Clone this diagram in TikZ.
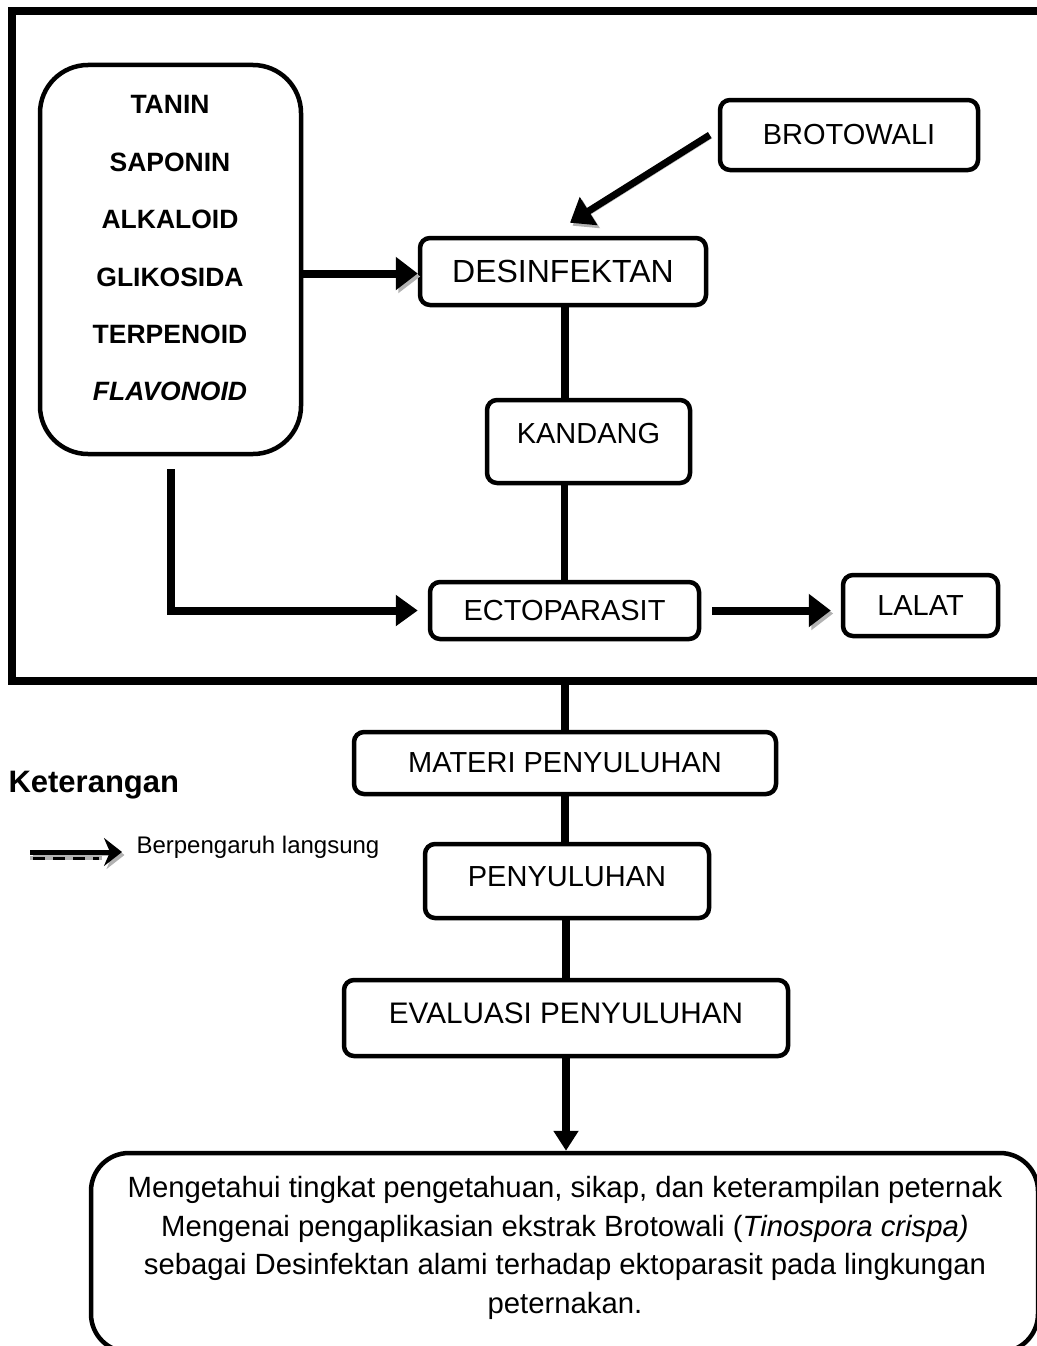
\documentclass[tikz,border=0pt]{standalone}
\usepackage{fontspec}
\setmainfont{Liberation Sans}
\usetikzlibrary{arrows.meta,calc,positioning}

\tikzset{
  kotak/.style={draw, line width=4.5pt, rounded corners=10pt, inner sep=0pt, align=center, font=\fontsize{29}{34}\selectfont},
  garis/.style={line width=7.5pt},
  panah/.style={line width=8pt, -{Triangle[length=22pt,width=32pt]}},
  bayang/.style={preaction={draw=black!30, transform canvas={shift={(2.5pt,-3pt)}}}},
}

\begin{document}
\begin{tikzpicture}[x=1pt,y=-1pt]
\useasboundingbox (0,0) rectangle (1036,1346);

% bingkai luar
\draw[line width=8pt] (1050,11) -- (12,11) -- (12,681) -- (1050,681);
\coordinate (bingkai) at (12,681);

% senyawa aktif
\node[draw, line width=4.5pt, rounded corners=48pt, minimum width=261pt, minimum height=389pt] (senyawa) at (170.5,259.5) {};
\node[align=center, font=\bfseries\fontsize{26.5}{57.4}\selectfont] (daftar) at (170,248.5)
  {TANIN\\SAPONIN\\ALKALOID\\GLIKOSIDA\\TERPENOID\\\textit{FLAVONOID}};

% kotak alur
\node[kotak, minimum width=258pt, minimum height=70pt] (brotowali) at (849,135) {BROTOWALI};
\node[kotak, minimum width=286pt, minimum height=67pt, font=\fontsize{32}{36}\selectfont] (desinfektan) at (563,271.5) {DESINFEKTAN};
\node[kotak, minimum width=203pt, minimum height=83pt, text depth=16pt] (kandang) at (588.5,441.5) {KANDANG};
\node[kotak, minimum width=269pt, minimum height=57pt] (ektoparasit) at (564.5,610.5) {ECTOPARASIT};
\node[kotak, minimum width=155pt, minimum height=61pt] (lalat) at (920.5,605.5) {LALAT};
\node[kotak, minimum width=422pt, minimum height=62pt] (materi) at (565,763) {MATERI PENYULUHAN};
\node[kotak, minimum width=284pt, minimum height=74pt, text depth=8pt] (penyuluhan) at (567,881) {PENYULUHAN};
\node[kotak, minimum width=444pt, minimum height=76pt, text depth=10pt, font=\fontsize{29.7}{34}\selectfont] (evaluasi) at (566,1018) {EVALUASI PENYULUHAN};

% tujuan akhir
\node[draw, line width=4.5pt, rounded corners=38pt, minimum width=947pt, minimum height=199pt] (tujuan) at (564.5,1252.5) {};
\node[align=center, font=\fontsize{29.3}{38.5}\selectfont] (tujuanteks) at (565,1248)
  {Mengetahui tingkat pengetahuan, sikap, dan keterampilan peternak\\
   Mengenai pengaplikasian ekstrak Brotowali (\textit{Tinospora crispa)}\\
   sebagai Desinfektan alami terhadap ektoparasit pada lingkungan\\
   peternakan.};

% panah dan garis
\draw[panah, bayang] ([yshift=-2pt]senyawa.east |- desinfektan.west) -- ([yshift=-2pt]desinfektan.west);
\draw[panah, line width=7pt, bayang] ([xshift=-8pt]brotowali.west) -- ($(desinfektan.north)+(7,-13)$);
\draw[garis] ([xshift=2pt]desinfektan.south) -- ([xshift=2pt]desinfektan.south |- kandang.north);
\draw[garis] (ektoparasit.north) -- (ektoparasit.north |- kandang.south);
\draw[panah, -{Triangle[length=22pt,width=30pt]}] ([yshift=-13pt]senyawa.south) |- ([xshift=-10pt]ektoparasit.west);
\draw[panah, bayang, shorten <=11pt, shorten >=10pt] (ektoparasit.east) -- (ektoparasit.east -| lalat.west);
\draw[garis] (materi.north) -- (materi.north |- bingkai);
\draw[garis] (materi.south) -- (materi.south |- penyuluhan.north);
\draw[garis] (evaluasi.north) -- (evaluasi.north |- penyuluhan.south);
\draw[panah, -{Triangle[length=20pt,width=24pt]}] (evaluasi.south) -- (evaluasi.south |- tujuan.north);

% keterangan
\node[anchor=west, font=\bfseries\fontsize{31}{36}\selectfont] (keterangan) at (5,785) {Keterangan};
\node[anchor=west, font=\fontsize{24}{28}\selectfont] (pengaruh) at (133,847) {Berpengaruh langsung};
\coordinate (legenda) at (30,852);
\draw[line width=5pt, bayang, -{Stealth[length=18pt,width=28pt,inset=6pt]}] (legenda) -- ([xshift=-11pt]pengaruh.west |- legenda);
\draw[line width=4pt, black!30] ([yshift=-6pt]legenda) -- ++(72,0);
\draw[line width=3pt, dash pattern=on 12pt off 8pt] ([yshift=-6pt]legenda) ++(3,0) -- ++(66,0);
\end{tikzpicture}
\end{document}
